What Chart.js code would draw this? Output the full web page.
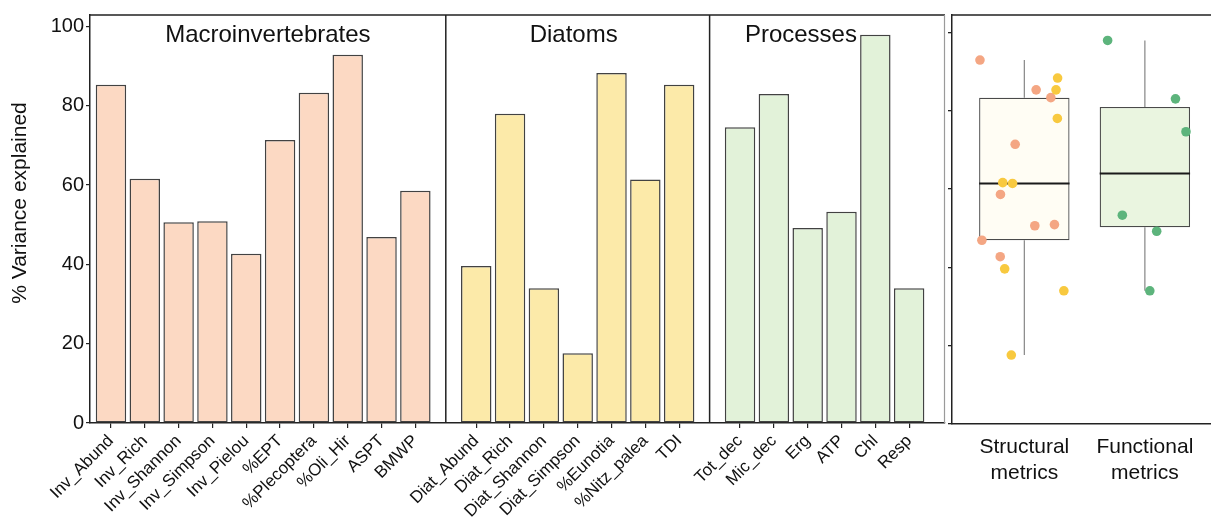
<!DOCTYPE html>
<html>
<head>
<meta charset="utf-8">
<script src="https://cdn.jsdelivr.net/npm/chart.js@4.4.1/dist/chart.umd.min.js"></script>
<style>
  html, body { margin: 0; padding: 0; background: #fff; overflow: hidden; width: 1211px; height: 519px; }
  #wrap { position: relative; width: 1211px; height: 519px; overflow: hidden; }
  #bars { position: absolute; left: 0; top: 0; width: 946px; height: 519px; }
  #box  { position: absolute; left: 940px; top: 0; width: 282px; height: 519px; }
</style>
</head>
<body>
<div id="wrap">
  <div id="bars"><canvas id="barCanvas"></canvas></div>
  <div id="box"><canvas id="boxCanvas"></canvas></div>
</div>
<script>
// ---- data ----
const macroLabels = ['Inv_Abund', 'Inv_Rich', 'Inv_Shannon', 'Inv_Simpson', 'Inv_Pielou',
                     '%EPT', '%Plecoptera', '%Oli_Hir', 'ASPT', 'BMWP'];
const macroValues = [85.3, 61.6, 50.6, 50.9, 42.7, 71.4, 83.3, 92.9, 46.9, 58.6];

const diatomLabels = ['Diat_Abund', 'Diat_Rich', 'Diat_Shannon', 'Diat_Simpson',
                      '%Eunotia', '%Nitz_palea', 'TDI'];
const diatomValues = [39.6, 78.0, 34.0, 17.6, 88.3, 61.4, 85.3];

const processLabels = ['Tot_dec', 'Mic_dec', 'Erg', 'ATP', 'Chl', 'Resp'];
const processValues = [74.6, 83.0, 49.2, 53.3, 97.9, 34.0];

const panelTitles = ['Macroinvertebrates', 'Diatoms', 'Processes'];
const yTickValues = [0, 20, 40, 60, 80, 100];
const yAxisTitle = '% Variance explained';

const boxCategories = [['Structural', 'metrics'], ['Functional', 'metrics']];
// point set for each structural metric (macroinvertebrate list, then diatom list)
const structuralPointSet = ['M', 'D', 'M', 'M', 'M', 'M', 'M', 'M', 'M', 'M',
                            'D', 'D', 'D', 'D', 'D', 'D', 'D'];
// horizontal jitter of the points, in category units
const structuralJitter = [0.098, -0.179, 0.087, 0.25, -0.2, -0.076, 0.22, -0.368, -0.352, -0.198,
                          -0.163, 0.274, 0.328, -0.108, 0.276, -0.098, 0.263];
const functionalJitter = [0.341, 0.254, 0.098, -0.187, -0.309, 0.041];

// ---- style ----
const FONT = "'Liberation Sans', Arial, Helvetica, sans-serif";
const INK = '#111111';
const AXIS = '#222222';
const barFills = ['#FCD9C3', '#FCEAA9', '#E2F2D9'];
const barEdge = '#424242';
const pointColours = { M: '#F4A683', D: '#F8C93F', F: '#5DB47C' };
const boxFills = ['#FFFDF4', '#EAF5E0'];

// facet layout along one linear axis (units = one bar slot)
const PANEL_GAP = 1.8;
const X_PAD_LEFT = 0.62;
const X_PAD_RIGHT = 1.06;
const titleShift = [0, -0.12, -0.78];

const panels = [
  { labels: macroLabels,   values: macroValues },
  { labels: diatomLabels,  values: diatomValues },
  { labels: processLabels, values: processValues }
];
let cursor = 0;
panels.forEach((p, k) => {
  p.title = panelTitles[k];
  p.start = cursor;
  p.end = cursor + p.labels.length - 1;
  cursor = p.end + PANEL_GAP;
});
const tickPositions = [];
const tickNames = [];
panels.forEach(p => p.labels.forEach((l, i) => { tickPositions.push(p.start + i); tickNames.push(l); }));
const boundaries = [];
for (let k = 0; k < panels.length - 1; k++) boundaries.push((panels[k].end + panels[k + 1].start) / 2);
const xMin = panels[0].start - X_PAD_LEFT;
const xMax = panels[panels.length - 1].end + X_PAD_RIGHT;
const panelEdges = [xMin, ...boundaries, xMax];

// frame lines, facet titles and the y-axis title
const facetPlugin = {
  id: 'facetFrame',
  afterDatasetsDraw(chart) {
    const { ctx, chartArea: a, scales: { x } } = chart;
    ctx.save();
    ctx.strokeStyle = AXIS;
    ctx.lineWidth = 1.5;
    ctx.beginPath();
    ctx.moveTo(a.left, a.top); ctx.lineTo(a.right, a.top);
    boundaries.forEach(b => {
      const px = x.getPixelForValue(b);
      ctx.moveTo(px, a.top); ctx.lineTo(px, a.bottom);
    });
    ctx.stroke();
    ctx.strokeStyle = '#9a9a9a';
    ctx.lineWidth = 1.2;
    ctx.beginPath();
    ctx.moveTo(a.right - 0.5, a.top); ctx.lineTo(a.right - 0.5, a.bottom);
    ctx.stroke();
    ctx.fillStyle = INK;
    ctx.font = '24px ' + FONT;
    ctx.textAlign = 'center';
    ctx.textBaseline = 'alphabetic';
    panels.forEach((p, k) => {
      const c = (panelEdges[k] + panelEdges[k + 1]) / 2 + titleShift[k];
      ctx.fillText(p.title, x.getPixelForValue(c), a.top + 27);
    });
    // axis title, set a little above the middle of the value axis
    ctx.save();
    ctx.translate(20, (a.top + a.bottom) / 2 - 16);
    ctx.rotate(-Math.PI / 2);
    ctx.textBaseline = 'middle';
    ctx.font = '21px ' + FONT;
    ctx.fillText(yAxisTitle, 0, 0);
    ctx.restore();
    ctx.restore();
  }
};

const barChart = new Chart(document.getElementById('barCanvas'), {
  type: 'bar',
  data: {
    datasets: panels.map((p, k) => ({
      label: p.title,
      data: p.values.map((v, i) => ({ x: p.start + i, y: v })),
      backgroundColor: barFills[k],
      borderColor: barEdge,
      borderWidth: 1.5,
      borderSkipped: false,
      grouped: false,
      categoryPercentage: 0.9,
      barPercentage: 1
    }))
  },
  options: {
    responsive: true,
    maintainAspectRatio: false,
    animation: false,
    layout: { padding: { top: 15, right: 1, left: 0, bottom: 0 } },
    plugins: { legend: { display: false }, tooltip: { enabled: false } },
    scales: {
      x: {
        type: 'linear',
        min: xMin,
        max: xMax,
        offset: false,
        afterBuildTicks: s => { s.ticks = tickPositions.map(v => ({ value: v })); },
        afterFit: s => { s.height = 96; s.paddingLeft = 0; s.paddingRight = 0; },
        grid: { display: true, drawOnChartArea: false, offset: false, tickLength: 5, color: AXIS, lineWidth: 1.2 },
        border: { display: true, color: AXIS, width: 1.5 },
        ticks: {
          autoSkip: false,
          minRotation: 45,
          maxRotation: 45,
          padding: 3,
          color: INK,
          font: { family: FONT, size: 17 },
          callback: (v, i) => tickNames[i]
        }
      },
      y: {
        min: 0,
        max: 102.9,
        afterBuildTicks: s => { s.ticks = yTickValues.map(v => ({ value: v })); },
        afterFit: s => { s.width = 90; },
        grid: { display: true, drawOnChartArea: false, tickLength: 4, color: AXIS, lineWidth: 1.2 },
        border: { display: true, color: AXIS, width: 1.5 },
        ticks: { padding: 2, color: INK, font: { family: FONT, size: 20 } }
      }
    }
  },
  plugins: [facetPlugin]
});

// ---- box plot of the two metric families ----
function quantile(sorted, p) {
  const h = (sorted.length - 1) * p;
  const lo = Math.floor(h);
  return sorted[lo] + (h - lo) * ((sorted[Math.min(lo + 1, sorted.length - 1)]) - sorted[lo]);
}
function boxStats(values) {
  const s = [...values].sort((a, b) => a - b);
  const q1 = quantile(s, 0.25), med = quantile(s, 0.5), q3 = quantile(s, 0.75);
  const iqr = q3 - q1;
  const lo = Math.min(...s.filter(v => v >= q1 - 1.5 * iqr));
  const hi = Math.max(...s.filter(v => v <= q3 + 1.5 * iqr));
  return { q1, med, q3, lo, hi };
}

const structuralValues = [...macroValues, ...diatomValues];
const groups = [
  { values: structuralValues, jitter: structuralJitter, sets: structuralPointSet },
  { values: processValues, jitter: functionalJitter, sets: processValues.map(() => 'F') }
];
groups.forEach((g, k) => { g.x = k + 1; g.stats = boxStats(g.values); });

const HALF_BOX = 0.375;
const whiskerData = [];
const medianData = [];
groups.forEach(g => {
  const s = g.stats;
  whiskerData.push({ x: g.x, y: s.hi }, { x: g.x, y: s.q3 }, { x: g.x, y: null },
                   { x: g.x, y: s.q1 }, { x: g.x, y: s.lo }, { x: g.x, y: null });
  medianData.push({ x: g.x - HALF_BOX, y: s.med }, { x: g.x + HALF_BOX, y: s.med }, { x: g.x, y: null });
});

const boxFramePlugin = {
  id: 'boxFrame',
  afterDatasetsDraw(chart) {
    const { ctx, chartArea: a } = chart;
    ctx.save();
    ctx.strokeStyle = AXIS;
    ctx.lineWidth = 1.5;
    ctx.beginPath();
    ctx.moveTo(a.left, a.top); ctx.lineTo(a.right, a.top); ctx.lineTo(a.right, a.bottom);
    ctx.stroke();
    ctx.restore();
  }
};

const boxChart = new Chart(document.getElementById('boxCanvas'), {
  type: 'bar',
  data: {
    datasets: [
      {
        type: 'bar',
        label: 'box',
        data: groups.map(g => ({ x: g.x, y: [g.stats.q1, g.stats.q3] })),
        backgroundColor: boxFills,
        borderColor: '#4a4a4a',
        borderWidth: 1.3,
        borderSkipped: false,
        grouped: false,
        categoryPercentage: 0.75,
        barPercentage: 1,
        order: 4
      },
      {
        type: 'line',
        label: 'whiskers',
        data: whiskerData,
        borderColor: '#858585',
        borderWidth: 1.2,
        pointRadius: 0,
        spanGaps: false,
        order: 5
      },
      {
        type: 'line',
        label: 'median',
        data: medianData,
        borderColor: '#1a1a1a',
        borderWidth: 2,
        pointRadius: 0,
        spanGaps: false,
        order: 2
      },
      ...groups.map((g, k) => ({
        type: 'scatter',
        label: 'points ' + (k + 1),
        data: g.values.map((v, i) => ({ x: g.x + g.jitter[i], y: v })),
        backgroundColor: g.sets.map(t => pointColours[t]),
        borderWidth: 0,
        pointRadius: 4.8,
        order: 0
      }))
    ]
  },
  options: {
    responsive: true,
    maintainAspectRatio: false,
    animation: false,
    layout: { padding: { top: 15, right: 0, left: 0, bottom: 0 } },
    plugins: { legend: { display: false }, tooltip: { enabled: false } },
    scales: {
      x: {
        type: 'linear',
        min: 0.4,
        max: 2.6,
        offset: false,
        afterBuildTicks: s => { s.ticks = groups.map(g => ({ value: g.x })); },
        afterFit: s => { s.height = 95; s.paddingLeft = 0; s.paddingRight = 0; },
        grid: { display: false },
        border: { display: true, color: AXIS, width: 1.5 },
        ticks: {
          autoSkip: false,
          maxRotation: 0,
          minRotation: 0,
          padding: 3,
          color: INK,
          font: { family: FONT, size: 21, lineHeight: 1.2 },
          callback: (v, i) => boxCategories[i]
        }
      },
      y: {
        min: 0,
        max: 104.4,
        afterBuildTicks: s => { s.ticks = yTickValues.map(v => ({ value: v })); },
        afterFit: s => { s.width = 12; },
        grid: { display: true, drawOnChartArea: false, tickLength: 4, color: AXIS, lineWidth: 1.3 },
        border: { display: true, color: AXIS, width: 1.5 },
        ticks: { display: false }
      }
    }
  },
  plugins: [boxFramePlugin]
});
</script>
</body>
</html>
